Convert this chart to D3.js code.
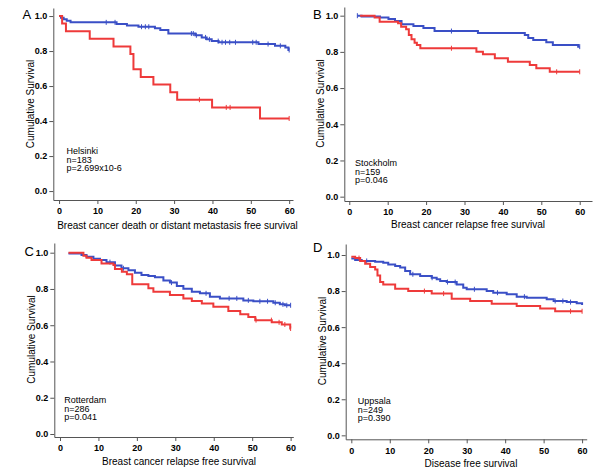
<!DOCTYPE html>
<html>
<head>
<meta charset="utf-8">
<script src="https://cdn.jsdelivr.net/npm/d3@7"></script>
<style>
  body { margin: 0; background: #fff; }
  svg { display: block; }
  text { font-family: Arial, "Liberation Sans", sans-serif; fill: #000; }
</style>
</head>
<body>
<div id="chart"></div>
<script>
const xTicks = [0, 10, 20, 30, 40, 50, 60]
const yTicks = [0, 0.2, 0.4, 0.6, 0.8, 1.0]

// Helsinki
const aBlueT = [0, 0.5, 1.2, 2.0, 3.0, 15.0, 17.7, 20.7, 25.0, 26.4, 28.5, 35.5, 37.2, 38.5, 39.8, 41.6, 52.0, 56.3, 59.0, 59.8, 60]
const aBlueS = [1.0, 0.99, 0.982, 0.973, 0.964, 0.955, 0.946, 0.939, 0.93, 0.92, 0.90, 0.89, 0.878, 0.867, 0.857, 0.85, 0.84, 0.83, 0.82, 0.806, 0.806]
const aBlueC = [12.3, 14.6, 21.5, 22.5, 23.4, 34.5, 35.0, 35.8, 38.2, 39.2, 41.5, 42.5, 43.4, 44.5, 46.0, 50.5, 51.4, 54.5, 57.7, 60]
const aRedT = [0, 0.8, 1.8, 8.0, 14.2, 18.6, 19.4, 21.3, 24.6, 29.0, 30.8, 39.9, 52.4, 60]
const aRedS = [1.0, 0.957, 0.913, 0.870, 0.826, 0.783, 0.696, 0.652, 0.609, 0.565, 0.522, 0.478, 0.415, 0.415]
const aRedC = [36.6, 43.6, 44.6, 60]

// Stockholm
const bBlueT = [2.1, 3.2, 8.0, 10.2, 11.9, 13.6, 16.7, 19.3, 22.2, 33.5, 45.7, 46.6, 47.9, 51.3, 53.0, 59.6, 60]
const bBlueS = [1.0, 0.995, 0.99, 0.982, 0.97, 0.952, 0.943, 0.932, 0.915, 0.905, 0.893, 0.877, 0.866, 0.853, 0.838, 0.829, 0.829]
const bBlueC = [2.1, 26.6, 60]
const bRedT = [2.8, 6.6, 7.9, 12.7, 13.5, 14.8, 15.5, 16.2, 17.0, 17.6, 18.5, 33.1, 34.8, 37.9, 41.3, 47.0, 48.7, 52.2, 60]
const bRedS = [1.0, 0.99, 0.967, 0.958, 0.939, 0.925, 0.893, 0.87, 0.851, 0.838, 0.82, 0.801, 0.787, 0.765, 0.746, 0.728, 0.709, 0.69, 0.69]
const bRedC = [26.6, 54, 60]

// Rotterdam
const cBlueT = [2.2, 5.6, 6.9, 8.7, 10.4, 12.1, 14.3, 16.0, 17.8, 19.5, 21.2, 23.0, 24.7, 26.9, 28.6, 30.4, 32.1, 34.3, 36.4, 39.0, 41.6, 47.7, 50.3, 55.5, 57.2, 58.5, 60]
const cBlueS = [0.995, 0.987, 0.978, 0.967, 0.96, 0.948, 0.93, 0.914, 0.903, 0.89, 0.877, 0.871, 0.864, 0.847, 0.835, 0.816, 0.801, 0.785, 0.776, 0.757, 0.748, 0.737, 0.732, 0.724, 0.715, 0.71, 0.71]
const cBlueC = [13, 16.5, 29, 38, 44, 46, 49, 52, 54, 56, 58, 59, 60]
const cRedT = [2.2, 6.1, 6.9, 8.2, 10.8, 13.9, 14.3, 16.1, 17.4, 18.8, 23.0, 24.3, 28.6, 32.1, 34.3, 36.9, 39.9, 43.8, 46.9, 49.0, 50.8, 55.1, 57.7, 59.9, 60]
const cRedS = [1.0, 0.983, 0.972, 0.96, 0.941, 0.932, 0.91, 0.895, 0.881, 0.826, 0.804, 0.785, 0.767, 0.748, 0.733, 0.72, 0.702, 0.678, 0.66, 0.646, 0.628, 0.616, 0.604, 0.582, 0.582]
const cRedC = [51, 55, 57, 58.5, 60]

// Uppsala
const dBlueT = [0, 1.0, 2.7, 6.2, 8.3, 9.6, 11.4, 12.7, 14.0, 15.3, 17.9, 20.9, 22.2, 23.1, 24.8, 27.4, 29.1, 30.0, 35.2, 36.9, 40.4, 43.0, 45.6, 50.8, 52.6, 56.0, 58.6, 60]
const dBlueS = [0.98, 0.972, 0.967, 0.963, 0.957, 0.948, 0.939, 0.93, 0.911, 0.893, 0.884, 0.874, 0.865, 0.856, 0.85, 0.837, 0.819, 0.81, 0.8, 0.791, 0.782, 0.769, 0.763, 0.754, 0.745, 0.739, 0.732, 0.723]
const dBlueC = [4, 16, 21, 25, 27, 32, 38, 45, 53, 55, 57]
const dRedT = [0, 1.0, 2.3, 3.6, 4.9, 6.2, 6.8, 7.5, 8.3, 11.4, 14.8, 20.9, 26.1, 30.9, 36.5, 43.0, 49.1, 53.0, 60]
const dRedS = [0.99, 0.983, 0.967, 0.952, 0.933, 0.92, 0.887, 0.85, 0.837, 0.813, 0.8, 0.786, 0.758, 0.745, 0.73, 0.717, 0.704, 0.688, 0.688]
const dRedC = [2, 19, 24, 57, 60]

const blue = '#3a4fc6'
const red = '#ee3a3a'

const width = 600, height = 473
const svg = d3.select('#chart').append('svg')
  .attr('width', width)
  .attr('height', height)

const panels = [
  {letter: 'A', lx: 22.5, ly: 18.5,
    xr: [53.3, 293], xd: [-1.5, 61], yr: [200, 8], yd: [-0.051, 1.046],
    ytx: 34, yty: 104, xtx: 177.5, xty: 228.5,
    xTitle: 'Breast cancer death or distant metastasis free survival',
    note: ['Helsinki', 'n=183', 'p=2.699x10-6'], nx: 66.5, ny: 154,
    blue: [aBlueT, aBlueS, aBlueC], red: [aRedT, aRedS, aRedC]},
  {letter: 'B', lx: 313, ly: 18.5,
    xr: [344.3, 592], xd: [-1.3, 63.2], yr: [201, 7], yd: [-0.024, 1.048],
    ytx: 323.5, yty: 103.5, xtx: 468, xty: 228,
    xTitle: 'Breast cancer relapse free survival',
    note: ['Stockholm', 'n=159', 'p=0.046'], nx: 355, ny: 166,
    blue: [bBlueT, bBlueS, bBlueC], red: [bRedT, bRedS, bRedC]},
  {letter: 'C', lx: 24.5, ly: 255.5,
    xr: [54.3, 293.3], xd: [-1.48, 60.7], yr: [437, 243], yd: [-0.0165, 1.0535],
    ytx: 35, yty: 339.5, xtx: 179, xty: 465,
    xTitle: 'Breast cancer relapse free survival',
    note: ['Rotterdam', 'n=286', 'p=0.041'], nx: 64.3, ny: 403,
    blue: [cBlueT, cBlueS, cBlueC], red: [cRedT, cRedS, cRedC]},
  {letter: 'D', lx: 313, ly: 251.5,
    xr: [345.7, 586.7], xd: [-1.46, 61.2], yr: [439.3, 244], yd: [-0.022, 1.061],
    ytx: 325.5, yty: 341, xtx: 471, xty: 466.5,
    xTitle: 'Disease free survival',
    note: ['Uppsala', 'n=249', 'p=0.390'], nx: 357.7, ny: 404,
    blue: [dBlueT, dBlueS, dBlueC], red: [dRedT, dRedS, dRedC]}
]

function survAt(T, S, t) {
  let v = S[0]
  for (let i = 0; i < T.length; i++) if (T[i] <= t) v = S[i]
  return v
}

panels.forEach(p => {
  const g = svg.append('g')
  const x = d3.scaleLinear().domain(p.xd).range(p.xr)
  const y = d3.scaleLinear().domain(p.yd).range(p.yr)

  const xAxis = d3.axisBottom(x)
    .tickValues(xTicks)
    .tickSize(4)
    .tickSizeOuter(0)
    .tickPadding(4)
  const yAxis = d3.axisLeft(y)
    .tickValues(yTicks)
    .tickFormat(d3.format('.1f'))
    .tickSize(4)
    .tickSizeOuter(0)
    .tickPadding(2)

  const gx = g.append('g')
    .attr('transform', `translate(0, ${p.yr[0]})`)
    .call(xAxis)
  const gy = g.append('g')
    .attr('transform', `translate(${p.xr[0]}, 0)`)
    .call(yAxis)
  ;[gx, gy].forEach(a => {
    a.select('.domain').attr('stroke', '#555').attr('stroke-width', 1)
    a.selectAll('.tick line').attr('stroke', '#555')
    a.selectAll('.tick text')
      .attr('font-size', 9)
      .attr('font-weight', 'bold')
      .attr('font-family', 'Arial, "Liberation Sans", sans-serif')
      .attr('fill', '#000')
  })

  // curves
  const line = d3.line()
    .x(d => x(d[0]))
    .y(d => y(d[1]))
    .curve(d3.curveStepAfter)
  ;[['blue', blue], ['red', red]].forEach(([k, col]) => {
    const [T, S, C] = p[k]
    g.append('path')
      .datum(T.map((t, i) => [t, S[i]]))
      .attr('fill', 'none')
      .attr('stroke', col)
      .attr('stroke-width', 2)
      .attr('d', line)
    g.selectAll(null)
      .data(C)
      .join('line')
      .attr('x1', d => x(d)).attr('x2', d => x(d))
      .attr('y1', d => y(survAt(T, S, d)) - 2.5)
      .attr('y2', d => y(survAt(T, S, d)) + 2.5)
      .attr('stroke', col)
      .attr('stroke-width', 1)
  })

  g.append('text')
    .attr('x', p.lx).attr('y', p.ly)
    .attr('font-size', 13)
    .text(p.letter)
  g.append('text')
    .attr('transform', `translate(${p.ytx}, ${p.yty}) rotate(-90)`)
    .attr('text-anchor', 'middle')
    .attr('font-size', 10)
    .text('Cumulative Survival')
  g.append('text')
    .attr('x', p.xtx).attr('y', p.xty)
    .attr('text-anchor', 'middle')
    .attr('font-size', 10)
    .text(p.xTitle)
  g.selectAll(null)
    .data(p.note)
    .join('text')
    .attr('x', p.nx)
    .attr('y', (d, i) => p.ny + i * 8.7)
    .attr('font-size', 9)
    .text(d => d)
})
</script>
</body>
</html>
